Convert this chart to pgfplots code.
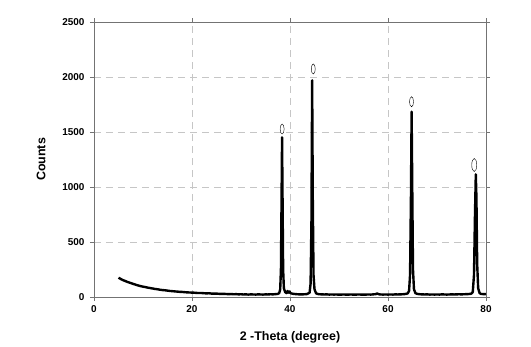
\documentclass[border=0pt]{standalone}
\usepackage{pgfplots}
\pgfplotsset{compat=1.18}
\usepackage{fontspec}
\setmainfont{Liberation Sans}
\usetikzlibrary{shapes.geometric}

\pgfplotstableread{
x y
5.0 175
5.3 168
5.6 160
6.0 152
6.5 143
7.0 134
7.5 127
8.0 119
8.5 112
9.0 105
9.5 99
10.0 94
10.5 90
11.0 85
11.5 81
12.0 77
12.5 73
13.0 70
13.5 66
14.0 63
14.5 61
15.0 58
15.5 55
16.0 53
16.5 51
17.0 49
17.5 47
18.0 46
18.5 44
19.0 42
19.5 41
20.0 40
20.5 39
21.0 37
21.5 36
22.0 36
22.5 34
23.0 33
23.5 34
24.0 31
24.5 30
25.0 31
25.5 29
26.0 28
26.5 29
27.0 27
27.5 26
28.0 27
28.5 25
29.0 26
29.5 24
30.0 25
30.5 23
31.0 24
31.5 22
32.0 24
32.5 23
33.0 22
33.5 24
34.0 23
34.5 22
35.0 24
35.5 23
36.0 25
36.5 24
37.0 26
37.5 28
37.8 35
38.0 70
38.15 250
38.28 900
38.38 1452
38.48 900
38.6 250
38.75 80
39.0 45
39.3 35
39.5 55
39.7 40
39.9 50
40.1 35
40.5 30
41.0 27
41.5 25
42.0 24
42.5 24
43.0 25
43.5 27
44.0 40
44.2 120
44.38 700
44.52 1970
44.65 900
44.8 200
45.0 70
45.3 35
45.6 28
46.0 25
46.5 24
47.0 23
47.5 24
48.0 22
48.5 23
49.0 22
49.5 23
50.0 21
50.5 22
51.0 23
51.5 21
52.0 22
52.5 23
53.0 21
53.5 22
54.0 23
54.5 22
55.0 21
55.5 22
56.0 23
56.5 22
57.0 24
57.5 26
57.8 32
58.1 25
58.5 23
59.0 22
59.5 23
60.0 22
60.5 23
61.0 22
61.5 24
62.0 23
62.5 24
63.0 25
63.5 27
64.0 32
64.3 55
64.5 200
64.68 900
64.82 1685
64.95 1000
65.1 250
65.3 70
65.6 35
66.0 28
66.5 25
67.0 24
67.5 23
68.0 24
68.5 22
69.0 23
69.5 22
70.0 23
70.5 22
71.0 24
71.5 23
72.0 22
72.5 23
73.0 24
73.5 23
74.0 24
74.5 25
75.0 24
75.5 25
76.0 26
76.5 27
77.0 30
77.3 45
77.55 200
77.75 750
77.92 1115
78.05 900
78.2 300
78.4 80
78.7 35
79.0 28
79.5 26
80.0 27
}\xrd

\begin{document}
\begin{tikzpicture}
\begin{axis}[
  scale only axis,
  width=392bp,
  height=275bp,
  xmin=0, xmax=80,
  ymin=0, ymax=2500,
  xtick={0,20,40,60,80},
  ytick={0,500,1000,1500,2000,2500},
  tick align=outside,
  major tick length=4bp,
  axis line style={draw=gray!90!black, line width=0.8pt},
  tick style={draw=gray!90!black, line width=0.8pt},
  xmajorgrids, ymajorgrids,
  major grid style={draw=gray!45, dash pattern=on 7bp off 5bp, line width=0.7pt},
  tick label style={font=\fontsize{10}{12}\selectfont\bfseries},
  /pgf/number format/assume math mode=true,
  scaled y ticks=false,
  yticklabel style={/pgf/number format/1000 sep={}, xshift=-2bp},
  xticklabel style={yshift=-1bp},
  xlabel={2 -Theta (degree)},
  ylabel={Counts},
  label style={font=\fontsize{12.5}{14}\selectfont\bfseries},
  xlabel style={at={(axis description cs:0.5,0)}, anchor=center, yshift=-40bp},
  ylabel style={at={(axis description cs:0,0.5)}, anchor=center, yshift=53bp},
]
\addplot[black, line width=2.4pt, line join=round] table[x=x, y=y] {\xrd};
\node[ellipse, draw=black, line width=0.4pt, minimum width=4bp, minimum height=10bp, inner sep=0pt] at (axis cs:38.4,1527) {};
\node[ellipse, draw=black, line width=0.4pt, minimum width=4bp, minimum height=10bp, inner sep=0pt] at (axis cs:44.75,2073) {};
\node[ellipse, draw=black, line width=0.4pt, minimum width=4bp, minimum height=10bp, inner sep=0pt] at (axis cs:64.8,1775) {};
\node[ellipse, draw=black, line width=0.4pt, minimum width=5bp, minimum height=13bp, inner sep=0pt] at (axis cs:77.6,1200) {};
\end{axis}
\path ([xshift=-94bp,yshift=-50bp]current axis.south west) rectangle ([xshift=45bp,yshift=22bp]current axis.north east);
\end{tikzpicture}
\end{document}
